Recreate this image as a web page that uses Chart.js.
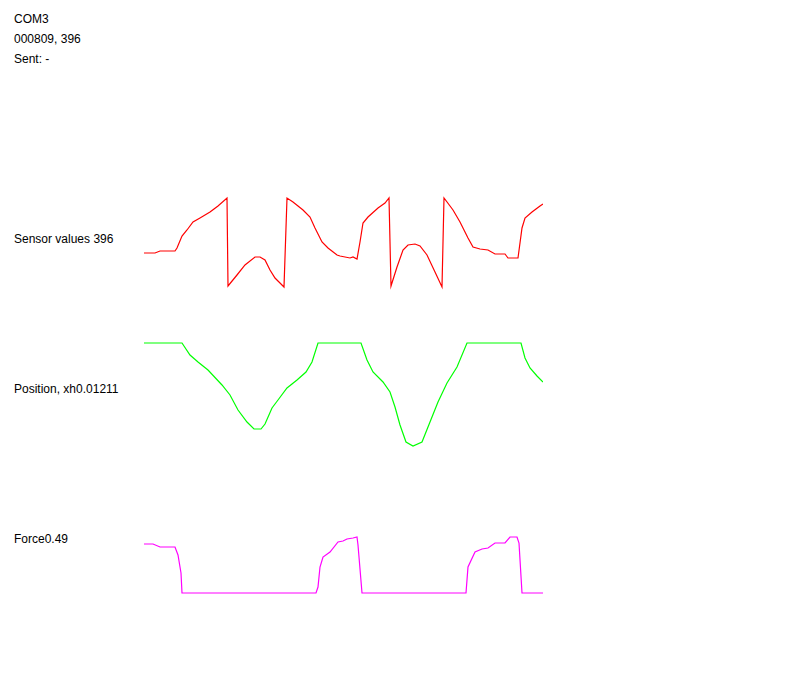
<!DOCTYPE html>
<html>
<head>
<meta charset="utf-8">
<script src="https://cdn.jsdelivr.net/npm/chart.js@4/dist/chart.umd.min.js"></script>
<style>
  html, body { margin:0; padding:0; background:#fff; width:791px; height:692px; overflow:hidden; }
  .lbl { position:absolute; left:14px; font:12px "Liberation Sans", Arial, sans-serif; line-height:12px; color:#000; white-space:nowrap; }
  .wrap { position:absolute; left:144px; width:399px; }
  canvas { display:block; }
</style>
</head>
<body>
<div class="lbl" style="top:13px">COM3</div>
<div class="lbl" style="top:33px">000809, 396</div>
<div class="lbl" style="top:53px">Sent: -</div>
<div class="lbl" style="top:233px">Sensor values 396</div>
<div class="lbl" style="top:383px">Position, xh0.01211</div>
<div class="lbl" style="top:533px">Force0.49</div>

<div class="wrap" style="top:190px;height:100px"><canvas id="cSensor" width="399" height="100"></canvas></div>
<div class="wrap" style="top:340px;height:110px"><canvas id="cPos" width="399" height="110"></canvas></div>
<div class="wrap" style="top:530px;height:70px"><canvas id="cForce" width="399" height="70"></canvas></div>

<script>
// Sample positions (time) and values
const sensorT = [0,11,16,31,33,38,43,49,56,66,74,83,84,93,101,111,116,121,126,131,140,143,149,159,166,171,178,184,193,196,206,209,213,216,219,224,234,241,245,247,253,259,264,271,276,283,291,298,300,309,316,324,329,336,344,351,361,364,374,378,381,388,396,399];
const sensorV = [37,37,39,39,42,54,60,68,72,78,84,92,4,15,25,33,33,30,20,12,3,92,88,80,73,62,48,42,35,34,32,33,31,48,67,73,82,87,92,4,23,40,45,46,44,35,18,3,92,80,68,52,43,41,40,36,36,32,32,62,72,78,84,86];

const positionT = [0,38,46,54,64,78,86,94,103,110,117,121,128,134,143,153,162,168,174,217,223,229,239,246,251,256,262,269,278,286,294,303,313,323,377,381,386,393,399];
const positionV = [107,107,95,88,80,65,55,40,28,21,21,26,42,50,62,70,78,88,107,107,90,78,68,58,43,25,8,4,8,28,48,67,83,107,107,92,82,74,68];

const forceT = [0,9,16,31,34,37,38,172,174,176,179,186,194,199,203,209,213,214,218,322,324,331,338,344,351,361,366,373,375,378,399];
const forceV = [56,56,53,53,45,27,7,7,13,33,43,48,58,59,61,62,63,55,7,7,33,48,51,52,57,57,63,63,57,7,7];

const tMin = 0, tMax = 399;

function pts(t, v) { return t.map((x, i) => ({ x: x, y: v[i] })); }

function makeChart(id, t, v, color, yMax) {
  new Chart(document.getElementById(id), {
    type: 'line',
    data: { datasets: [{ data: pts(t, v), borderColor: color, borderWidth: 1.2, pointRadius: 0, tension: 0, fill: false }] },
    options: {
      responsive: false,
      animation: false,
      layout: { padding: 0 },
      plugins: { legend: { display: false }, tooltip: { enabled: false } },
      scales: {
        x: { type: 'linear', min: tMin, max: tMax, display: false },
        y: { type: 'linear', min: 0, max: yMax, display: false }
      }
    }
  });
}

makeChart('cSensor', sensorT, sensorV, '#ff0000', 100);
makeChart('cPos', positionT, positionV, '#00ff00', 110);
makeChart('cForce', forceT, forceV, '#ff00ff', 70);
</script>
</body>
</html>
